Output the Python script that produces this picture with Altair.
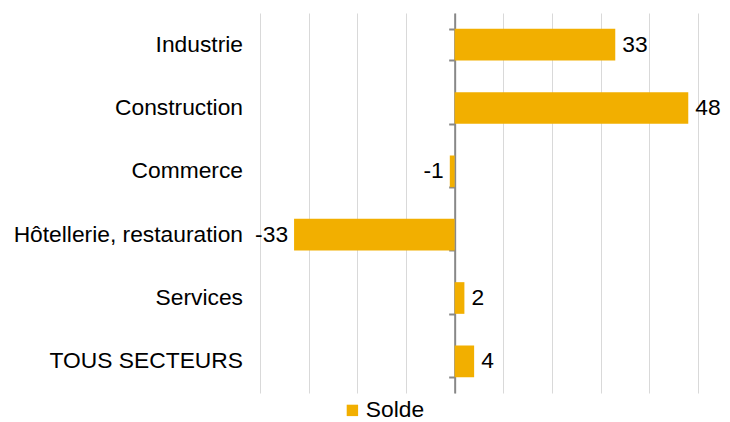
import altair as alt
import pandas as pd

categories = ["Industrie", "Construction", "Commerce", "Hôtellerie, restauration", "Services", "TOUS SECTEURS"]
values = [33, 48, -1, -33, 2, 4]
series_name = "Solde"

df = pd.DataFrame({"cat": categories, "val": values, "serie": [series_name] * len(categories)})
df["lbl"] = [str(v) for v in values]

FONT = "Liberation Sans"
FS = 22.8
GOLD = "#F2AF00"

y_enc = alt.Y("cat:N", sort=categories,
              scale=alt.Scale(paddingInner=0.5, paddingOuter=0.25),
              axis=alt.Axis(title=None, labels=False, offset=-194.67, domainColor="#888888",
                            domainWidth=2, tickColor="#888888", tickWidth=2, tickSize=6,
                            tickBand="extent", grid=False))
x_enc = alt.X("val:Q", scale=alt.Scale(domain=[-40, 50], nice=False),
              axis=alt.Axis(title=None, labels=False, ticks=False, domain=False,
                            values=list(range(-40, 51, 10)), grid=True,
                            gridColor="#d9d9d9", gridWidth=1))

bars = alt.Chart(df).mark_bar().encode(
    y=y_enc, x=x_enc,
    color=alt.Color("serie:N", scale=alt.Scale(range=[GOLD]),
                    legend=alt.Legend(title=None, orient="none", legendX=81, legendY=386,
                                      symbolType="square", symbolSize=130, symbolStrokeWidth=0,
                                      labelFontSize=FS, labelFont=FONT, labelColor="#000000",
                                      labelOffset=2, padding=0, direction="horizontal"))
)

pos = alt.Chart(df).transform_filter("datum.val >= 0").mark_text(
    align="left", dx=7, fontSize=FS, font=FONT, color="#000000"
).encode(y=alt.Y("cat:N", sort=categories), x="val:Q", text="lbl:N")

neg = alt.Chart(df).transform_filter("datum.val < 0").mark_text(
    align="right", dx=-6, fontSize=FS, font=FONT, color="#000000"
).encode(y=alt.Y("cat:N", sort=categories), x="val:Q", text="lbl:N")

cat_labels = alt.Chart(df).mark_text(
    align="right", fontSize=FS, font=FONT, color="#000000"
).encode(y=alt.Y("cat:N", sort=categories), x=alt.value(-17), text="cat:N")

chart = alt.layer(bars, pos, neg, cat_labels).properties(
    width=438, height=380,
    padding={"left": 252, "top": 5, "right": 24, "bottom": 31},
    autosize="none",
).configure_view(stroke=None)

chart.save("out.html", embed_options={"renderer": "svg", "actions": False})
